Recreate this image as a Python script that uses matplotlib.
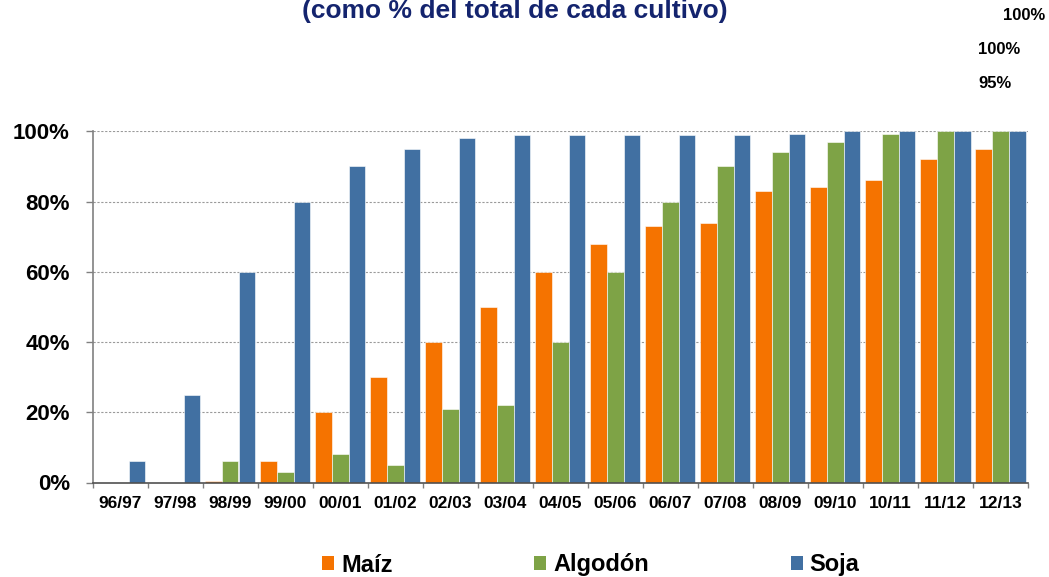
import matplotlib
matplotlib.use("Agg")
import matplotlib.pyplot as plt
from matplotlib.patches import Patch
import numpy as np

plt.rcParams['font.family'] = ['Liberation Sans', 'DejaVu Sans']

campanas = ["96/97", "97/98", "98/99", "99/00", "00/01", "01/02", "02/03", "03/04",
            "04/05", "05/06", "06/07", "07/08", "08/09", "09/10", "10/11", "11/12", "12/13"]
maiz = [0, 0, 0.5, 6, 20, 30, 40, 50, 60, 68, 73, 74, 83, 84, 86, 92, 95]
algodon = [0, 0, 6, 3, 8, 5, 21, 22, 40, 60, 80, 90, 94, 97, 99.3, 100, 100]
soja = [6, 25, 60, 80, 90, 95, 98, 99, 99, 99, 99, 99, 99.3, 100, 100, 100, 100]
series_names = ["Maíz", "Algodón", "Soja"]
colors = ["#F57300", "#7EA346", "#4170A2"]
y_ticks = [0, 20, 40, 60, 80, 100]
titulo = "(como % del total de cada cultivo)"
notas = ["100%", "100%", "95%"]

fig = plt.figure(figsize=(10.49, 5.77), dpi=100)
ax = fig.add_axes([92.7 / 1049, 1 - 482.5 / 577, (1028 - 92.7) / 1049, (482.5 - 131.3) / 577])

x = np.arange(len(campanas))
w = 0.30
off = 0.305
for i, (vals, c) in enumerate(zip([maiz, algodon, soja], colors)):
    ax.bar(x + (i - 1) * off, vals, width=w, color=c, edgecolor="white",
           linewidth=0.4, zorder=3)

ax.set_xlim(-0.5, len(campanas) - 0.5)
ax.set_ylim(0, 100)
ax.set_yticks(y_ticks)
ax.set_yticklabels([f"{v}%" for v in y_ticks], fontsize=16, fontweight="bold")
ax.tick_params(axis="y", length=5, width=1, color="#808080", pad=11.5, direction="out")

ax.set_xticks(x)
ax.set_xticklabels(campanas, fontsize=12.5, fontweight="bold")
ax.set_xticks(np.arange(len(campanas) + 1) - 0.5, minor=True)
ax.tick_params(axis="x", which="major", length=0, pad=10)
ax.tick_params(axis="x", which="minor", length=3.5, width=1, color="#808080")

for v in y_ticks[1:]:
    ax.axhline(v, color="#9A9A9A", linewidth=0.8, linestyle=(0, (2, 1.5)), zorder=1)

for s in ["top", "right"]:
    ax.spines[s].set_visible(False)
ax.spines["left"].set_color("#808080")
ax.spines["left"].set_linewidth(1.2)
ax.spines["bottom"].set_color("#505050")
ax.spines["bottom"].set_linewidth(1.2)
ax.spines["bottom"].set_zorder(4)

fig.text(514.5 / 1049, 1 - 18 / 577, titulo, ha="center", va="baseline",
         fontsize=19, fontweight="bold", color="#14246E")

note_pos = [(1003, 16), (978, 50), (978, 84)]
for (px, py), t in zip(note_pos, notas):
    fig.text(px / 1049, 1 - py / 577, t, ha="left", va="center",
             fontsize=12, fontweight="bold", color="black")

handles = [Patch(facecolor=c, edgecolor="none") for c in colors]
leg = fig.legend(handles, series_names, loc="center", ncol=3,
                 bbox_to_anchor=(591 / 1049, 1 - 565 / 577), frameon=False,
                 prop={"size": 17, "weight": "bold"}, handlelength=0.5,
                 handleheight=0.5, handletextpad=0.3, columnspacing=6.0,
                 borderpad=0, borderaxespad=0)

fig.savefig("out.png", dpi=100)
